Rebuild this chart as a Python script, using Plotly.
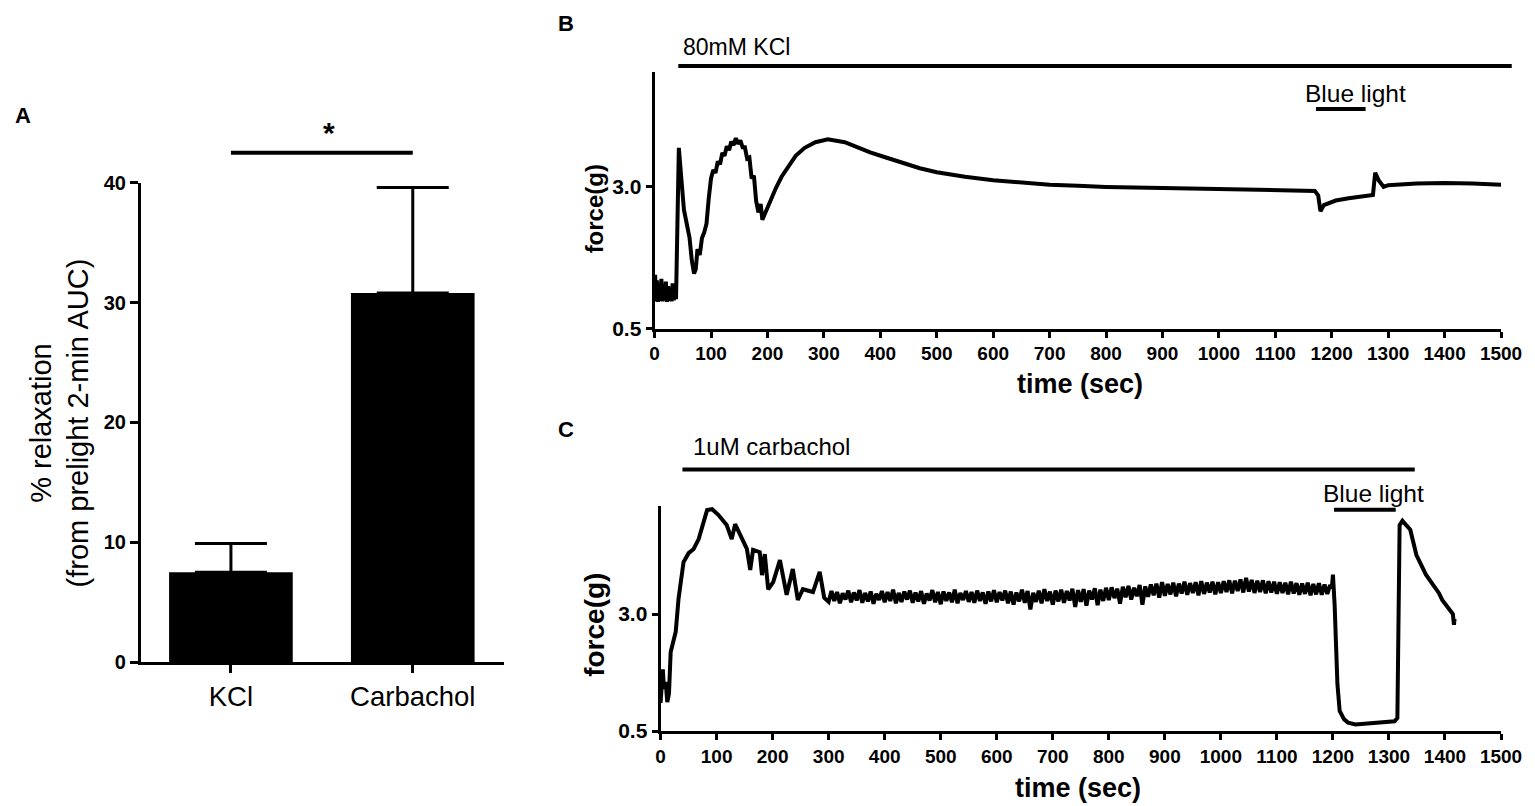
import plotly.graph_objects as go

W, H = 1535, 806

# ---- panel A: bar chart ----
categories = ["KCl", "Carbachol"]
relax_mean = [7.5, 30.8]
relax_sem = [2.4, 8.8]

# ---- panel B: KCl trace (time s, force g) ----
b_time = [0, 1, 2, 4, 6, 8, 10, 12, 14, 16, 18, 20, 22, 24, 26, 28, 30, 32, 34, 36, 38,
          40, 43, 47, 52, 58, 62, 66, 70, 73, 76, 80, 84, 88, 92, 96,
          100, 104, 108, 112, 116, 120, 124, 128, 132, 136, 140, 144, 148, 152, 156, 160,
          164, 168, 172, 176, 180, 184, 188, 191, 195, 200, 207, 215, 225, 237, 250, 266,
          285, 307, 337, 360, 382, 410, 442, 470, 500, 550, 600, 650, 700, 750, 800, 900,
          1000, 1100, 1170, 1176, 1180, 1186, 1195, 1207, 1230, 1255, 1273, 1277, 1283,
          1292, 1300, 1350, 1400, 1450, 1500]
b_force = [0.98, 1.45, 1.0, 1.35, 0.97, 1.30, 0.99, 1.38, 0.98, 1.28, 1.0, 1.33, 0.97, 1.25,
           0.99, 1.22, 0.98, 1.30, 1.0, 1.25, 1.02,
           2.2, 3.69, 3.2, 2.6, 2.3, 2.1, 1.7, 1.47, 1.55, 1.9, 1.8, 2.1, 2.2, 2.35, 2.8,
           3.15, 3.3, 3.25, 3.45, 3.4, 3.6, 3.55, 3.72, 3.65, 3.8, 3.74, 3.86, 3.76, 3.82,
           3.7, 3.7, 3.5, 3.52, 3.15, 3.2, 2.75, 2.55, 2.7, 2.42, 2.52, 2.62, 2.78, 2.98,
           3.18, 3.36, 3.55, 3.69, 3.79, 3.84, 3.79, 3.70, 3.61, 3.52, 3.42, 3.33, 3.26,
           3.18, 3.12, 3.08, 3.04, 3.02, 3.0, 2.98, 2.96, 2.94, 2.93, 2.85, 2.57, 2.68,
           2.72, 2.76, 2.80, 2.84, 2.86, 3.25, 3.12, 3.0, 3.03, 3.06, 3.07, 3.06, 3.04]

# ---- panel C: carbachol trace (time s, force g) ----
c_time_rise = [0, 2, 4, 6, 9, 12, 15, 18, 22, 27, 32, 37, 41, 50, 59, 68, 77, 83, 92, 103,
               118, 127, 133, 142, 154, 160, 165, 177, 181, 186, 192, 201, 213, 225, 236,
               245, 254, 272, 284, 292]
c_force_rise = [1.1, 1.6, 1.82, 1.4, 1.55, 1.12, 1.3, 2.19, 2.4, 2.62, 3.32, 3.8, 4.11, 4.3,
                4.39, 4.6, 5.0, 5.22, 5.24, 5.12, 4.90, 4.6, 4.92, 4.69, 4.39, 3.94, 4.37,
                4.32, 3.83, 4.28, 3.53, 3.68, 4.15, 3.41, 3.96, 3.30, 3.53, 3.47, 3.90, 3.35]
# plateau, read every 5 s from 300 s to 1195 s
c_time_plateau = list(range(300, 1200, 5))
c_force_plateau = [
    3.26, 3.49, 3.28, 3.47, 3.23, 3.44, 3.31, 3.50, 3.25, 3.46, 3.29, 3.51, 3.24, 3.45, 3.27, 3.48, 3.22, 3.43, 3.30, 3.49,
    3.25, 3.47, 3.28, 3.52, 3.23, 3.45, 3.26, 3.48, 3.31, 3.50, 3.24, 3.46, 3.27, 3.49, 3.22, 3.44, 3.29, 3.51, 3.25, 3.47,
    3.21, 3.48, 3.28, 3.46, 3.25, 3.52, 3.23, 3.45, 3.30, 3.49, 3.26, 3.47, 3.24, 3.50, 3.28, 3.46, 3.22, 3.48, 3.27, 3.51,
    3.25, 3.47, 3.29, 3.50, 3.23, 3.48, 3.20, 3.46, 3.27, 3.52, 3.24, 3.49, 3.10, 3.45, 3.26, 3.50, 3.23, 3.53, 3.28, 3.48,
    3.20, 3.50, 3.27, 3.52, 3.24, 3.49, 3.29, 3.54, 3.15, 3.51, 3.26, 3.53, 3.18, 3.50, 3.31, 3.55, 3.19, 3.52, 3.28, 3.56,
    3.30, 3.57, 3.34, 3.54, 3.22, 3.58, 3.36, 3.60, 3.31, 3.56, 3.38, 3.62, 3.20, 3.59, 3.37, 3.63, 3.40, 3.65, 3.35, 3.68,
    3.39, 3.64, 3.42, 3.67, 3.38, 3.65, 3.44, 3.69, 3.41, 3.66, 3.45, 3.68, 3.40, 3.70, 3.43, 3.67, 3.46, 3.69, 3.42, 3.68,
    3.45, 3.70, 3.47, 3.72, 3.44, 3.71, 3.49, 3.74, 3.46, 3.77, 3.48, 3.73, 3.45, 3.71, 3.47, 3.72, 3.44, 3.70, 3.46, 3.69,
    3.43, 3.68, 3.45, 3.67, 3.42, 3.69, 3.44, 3.66, 3.41, 3.65, 3.43, 3.67, 3.40, 3.64, 3.42, 3.66, 3.41, 3.63, 3.43, 3.62,
]
c_time_light = [1198, 1200, 1203, 1208, 1212, 1220, 1227, 1240, 1260, 1280, 1300, 1310, 1315,
                1319, 1324, 1338, 1349, 1366, 1380, 1389, 1395, 1402, 1408, 1411, 1414, 1416,
                1417]
c_force_light = [3.55, 3.84, 3.2, 1.5, 0.93, 0.75, 0.68, 0.64, 0.66, 0.68, 0.70, 0.71, 0.78,
                 4.90, 4.99, 4.80, 4.26, 3.84, 3.6, 3.45, 3.3, 3.2, 3.1, 3.06, 3.0, 2.77, 2.9]

# treatment periods (s)
kcl_period = [42, 1519]
b_light_period = [1172, 1260]
carb_period = [39, 1346]
c_light_period = [1202, 1312]
time_range = [0, 1500]

FONT = "Liberation Sans, Arial, sans-serif"

# the photographed page shows the figure slightly shrunk and offset; positions
# below are given in pixels of the final picture and mapped back to paper units
SX, OX = 0.9837, 12.0
SY, OY = 0.974, 17.0


def px(x):
    return (x - OX) / SX / W


def py(y):
    return 1 - (y - OY) / SY / H


fig = go.Figure()

fig.add_trace(go.Bar(
    x=categories, y=relax_mean, width=0.68,
    marker=dict(color="black", line=dict(width=0)),
    error_y=dict(type="data", array=relax_sem, arrayminus=[0, 0], symmetric=False,
                 color="black", thickness=3, width=36),
    xaxis="x", yaxis="y"))

fig.add_trace(go.Scatter(x=b_time, y=b_force, mode="lines",
                         line=dict(color="black", width=4), xaxis="x2", yaxis="y2"))
fig.add_trace(go.Scatter(x=c_time_rise + c_time_plateau + c_time_light,
                         y=c_force_rise + c_force_plateau + c_force_light, mode="lines",
                         line=dict(color="black", width=4), xaxis="x3", yaxis="y3"))

axis_common = dict(showline=True, linecolor="black", showgrid=False, zeroline=False,
                   ticks="outside", tickcolor="black")


def bold(size):
    return dict(family=FONT, size=size, color="black", weight="bold")


fig.update_layout(
    width=W, height=H, margin=dict(l=0, r=0, t=0, b=0),
    paper_bgcolor="white", plot_bgcolor="white", showlegend=False,
    font=dict(family=FONT, color="black"),
    xaxis=dict(axis_common, domain=[px(140), px(503)], range=[-0.495, 1.5], anchor="y",
               linewidth=3, ticklen=8, tickwidth=3,
               tickfont=dict(family=FONT, size=27.5, color="black")),
    yaxis=dict(axis_common, domain=[py(661), py(181)], range=[0, 40], anchor="x",
               tickvals=[0, 10, 20, 30, 40], linewidth=3, ticklen=8, tickwidth=3,
               tickfont=bold(20)),
    xaxis2=dict(axis_common, domain=[px(654), px(1501)], range=time_range, anchor="y2",
                dtick=100, linewidth=3, ticklen=6, tickwidth=2.5, tickfont=bold(19)),
    yaxis2=dict(axis_common, domain=[py(327), py(70)], range=[0.5, 5.03], anchor="x2",
                tickvals=[0.5, 3.0], ticktext=["0.5", "3.0"], linewidth=3, ticklen=6,
                tickwidth=2.5, tickfont=bold(21)),
    xaxis3=dict(axis_common, domain=[px(660), px(1501)], range=time_range, anchor="y3",
                dtick=100, linewidth=3, ticklen=6, tickwidth=2.5, tickfont=bold(19)),
    yaxis3=dict(axis_common, domain=[py(730), py(505)], range=[0.5, 5.30], anchor="x3",
                tickvals=[0.5, 3.0], ticktext=["0.5", "3.0"], linewidth=3, ticklen=6,
                tickwidth=2.5, tickfont=bold(21)),
)

# significance bar over the two groups
fig.add_shape(type="line", xref="x", yref="paper", x0=categories[0], x1=categories[1],
              y0=py(151), y1=py(151), line=dict(color="black", width=4))

# treatment bars; the KCl bar runs past the end of the axis, so it is placed on the
# axis domain (fraction of the time range) to avoid clipping
span = time_range[1] - time_range[0]
fig.add_shape(type="line", xref="x2 domain", yref="paper",
              x0=(kcl_period[0] - time_range[0]) / span,
              x1=(kcl_period[1] - time_range[0]) / span,
              y0=py(64), y1=py(64), line=dict(color="black", width=4))
for xr, period, ypix in [("x2", b_light_period, 107), ("x3", carb_period, 468),
                         ("x3", c_light_period, 508.5)]:
    fig.add_shape(type="line", xref=xr, yref="paper", x0=period[0], x1=period[1],
                  y0=py(ypix), y1=py(ypix), line=dict(color="black", width=4))

annots = [
    dict(text="A", x=22, y=114, size=22, bold=True),
    dict(text="B", x=565, y=22, size=22, bold=True),
    dict(text="C", x=565, y=428, size=22, bold=True),
    dict(text="*", x=328, y=131, size=30, bold=True),
    dict(text="time (sec)", x=1080, y=382, size=27, bold=True),
    dict(text="time (sec)", x=1078, y=787, size=27, bold=True),
]
for a in annots:
    fig.add_annotation(text=a["text"], xref="paper", yref="paper", x=px(a["x"]), y=py(a["y"]),
                       xanchor="center", yanchor="middle", showarrow=False,
                       font=dict(family=FONT, size=a["size"], color="black",
                                 weight="bold" if a["bold"] else "normal"))

# rotated axis titles
fig.add_annotation(text="% relaxation<br>(from prelight 2-min AUC)", xref="paper",
                   yref="paper", x=px(59), y=py(421), textangle=-90, showarrow=False,
                   xanchor="center", yanchor="middle",
                   font=dict(family=FONT, size=29, color="black"))
for xx, yy, sz in [(594, 207, 24), (594, 624, 28)]:
    fig.add_annotation(text="force(g)", xref="paper", yref="paper", x=px(xx), y=py(yy),
                       textangle=-90, showarrow=False, xanchor="center", yanchor="middle",
                       font=bold(sz))

# treatment labels
fig.add_annotation(text="80mM KCl", xref="x2", yref="paper", x=kcl_period[0] + 4, y=py(45),
                   xanchor="left", yanchor="middle", showarrow=False,
                   font=dict(family=FONT, size=23, color="black"))
fig.add_annotation(text="Blue light", xref="x2", yref="paper",
                   x=sum(b_light_period) / 2 + 26, y=py(92), xanchor="center",
                   yanchor="middle", showarrow=False,
                   font=dict(family=FONT, size=24.5, color="black"))
fig.add_annotation(text="1uM carbachol", xref="x3", yref="paper", x=carb_period[0] + 16,
                   y=py(445), xanchor="left", yanchor="middle", showarrow=False,
                   font=dict(family=FONT, size=24, color="black"))
fig.add_annotation(text="Blue light", xref="x3", yref="paper",
                   x=sum(c_light_period) / 2 + 16, y=py(492), xanchor="center",
                   yanchor="middle", showarrow=False,
                   font=dict(family=FONT, size=24.5, color="black"))

fig.write_html("out.html")
